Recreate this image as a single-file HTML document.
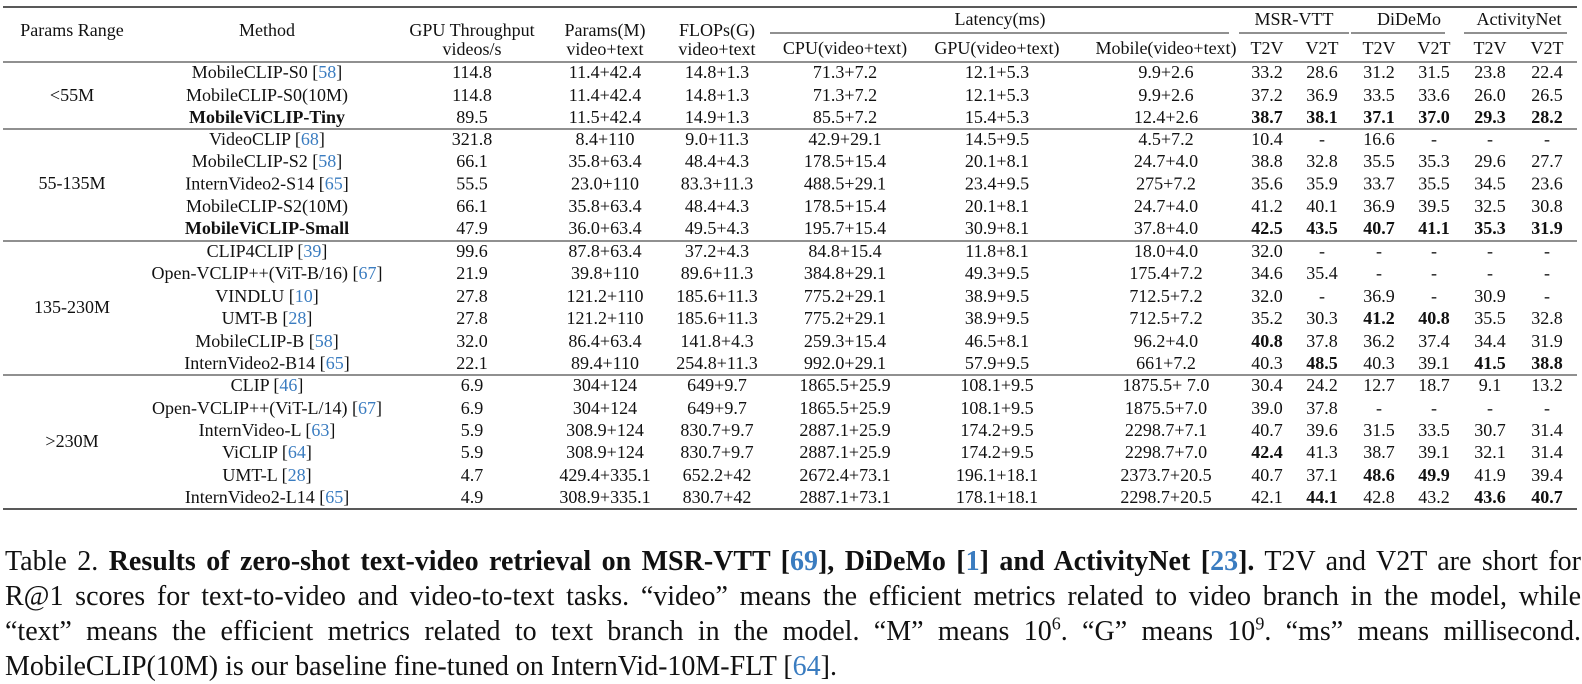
<!DOCTYPE html>
<html><head><meta charset="utf-8"><style>
html,body{margin:0;padding:0;background:#fff;width:1582px;height:677px;overflow:hidden}
svg{position:absolute;left:0;top:0}
svg text{font-family:"Liberation Serif",serif;font-size:18px;fill:#111;text-anchor:middle}
.b{font-weight:bold}
.r{fill:#3a7cc0}
.cap{position:absolute;left:5px;top:544px;width:1576px;font-family:"Liberation Serif",serif;font-size:28px;line-height:35px;color:#111}
.cap div{text-align:justify;text-align-last:justify;white-space:nowrap}
.cap div.l{text-align-last:left}
.cap .bl{color:#3a7cc0}
sup{font-size:18px;line-height:0}
</style></head><body>
<svg width="1582" height="540" viewBox="0 0 1582 540">
<g stroke="#222" fill="none">
<line x1="3" y1="7" x2="1577" y2="7" stroke-width="1.6"/>
<line x1="770" y1="33" x2="1229" y2="33" stroke-width="0.9"/>
<line x1="1239" y1="33" x2="1349" y2="33" stroke-width="0.9"/>
<line x1="1351" y1="33" x2="1445" y2="33" stroke-width="0.9"/>
<line x1="1464" y1="33" x2="1567" y2="33" stroke-width="0.9"/>
<line x1="3" y1="62" x2="1577" y2="62" stroke-width="1"/>
<line x1="3" y1="129" x2="1577" y2="129" stroke-width="1"/>
<line x1="3" y1="241" x2="1577" y2="241" stroke-width="1"/>
<line x1="3" y1="375" x2="1577" y2="375" stroke-width="1"/>
<line x1="3" y1="509" x2="1577" y2="509" stroke-width="1.6"/>
</g>
<text x="72" y="36">Params Range</text>
<text x="267" y="36">Method</text>
<text x="472" y="36">GPU Throughput</text><text x="472" y="55">videos/s</text>
<text x="605" y="36">Params(M)</text><text x="605" y="55">video+text</text>
<text x="717" y="36">FLOPs(G)</text><text x="717" y="55">video+text</text>
<text x="1000" y="25">Latency(ms)</text>
<text x="845" y="54">CPU(video+text)</text>
<text x="997" y="54">GPU(video+text)</text>
<text x="1166" y="54">Mobile(video+text)</text>
<text x="1294" y="25">MSR-VTT</text>
<text x="1409" y="25">DiDeMo</text>
<text x="1519" y="25">ActivityNet</text>
<text x="1267" y="54">T2V</text><text x="1322" y="54">V2T</text>
<text x="1379" y="54">T2V</text><text x="1434" y="54">V2T</text>
<text x="1490" y="54">T2V</text><text x="1547" y="54">V2T</text>

<text x="72" y="101">&lt;55M</text>
<text x="72" y="189">55-135M</text>
<text x="72" y="313">135-230M</text>
<text x="72" y="447">&gt;230M</text>

<g transform="translate(0,78)"><text x="267">MobileCLIP-S0 [<tspan class="r">58</tspan>]</text><text x="472">114.8</text><text x="605">11.4+42.4</text><text x="717">14.8+1.3</text><text x="845">71.3+7.2</text><text x="997">12.1+5.3</text><text x="1166">9.9+2.6</text><text x="1267">33.2</text><text x="1322">28.6</text><text x="1379">31.2</text><text x="1434">31.5</text><text x="1490">23.8</text><text x="1547">22.4</text></g>
<g transform="translate(0,101)"><text x="267">MobileCLIP-S0(10M)</text><text x="472">114.8</text><text x="605">11.4+42.4</text><text x="717">14.8+1.3</text><text x="845">71.3+7.2</text><text x="997">12.1+5.3</text><text x="1166">9.9+2.6</text><text x="1267">37.2</text><text x="1322">36.9</text><text x="1379">33.5</text><text x="1434">33.6</text><text x="1490">26.0</text><text x="1547">26.5</text></g>
<g transform="translate(0,123)"><text x="267" class="b">MobileViCLIP-Tiny</text><text x="472">89.5</text><text x="605">11.5+42.4</text><text x="717">14.9+1.3</text><text x="845">85.5+7.2</text><text x="997">15.4+5.3</text><text x="1166">12.4+2.6</text><text x="1267" class="b">38.7</text><text x="1322" class="b">38.1</text><text x="1379" class="b">37.1</text><text x="1434" class="b">37.0</text><text x="1490" class="b">29.3</text><text x="1547" class="b">28.2</text></g>

<g transform="translate(0,145)"><text x="267">VideoCLIP [<tspan class="r">68</tspan>]</text><text x="472">321.8</text><text x="605">8.4+110</text><text x="717">9.0+11.3</text><text x="845">42.9+29.1</text><text x="997">14.5+9.5</text><text x="1166">4.5+7.2</text><text x="1267">10.4</text><text x="1322">-</text><text x="1379">16.6</text><text x="1434">-</text><text x="1490">-</text><text x="1547">-</text></g>
<g transform="translate(0,167)"><text x="267">MobileCLIP-S2 [<tspan class="r">58</tspan>]</text><text x="472">66.1</text><text x="605">35.8+63.4</text><text x="717">48.4+4.3</text><text x="845">178.5+15.4</text><text x="997">20.1+8.1</text><text x="1166">24.7+4.0</text><text x="1267">38.8</text><text x="1322">32.8</text><text x="1379">35.5</text><text x="1434">35.3</text><text x="1490">29.6</text><text x="1547">27.7</text></g>
<g transform="translate(0,189.5)"><text x="267">InternVideo2-S14 [<tspan class="r">65</tspan>]</text><text x="472">55.5</text><text x="605">23.0+110</text><text x="717">83.3+11.3</text><text x="845">488.5+29.1</text><text x="997">23.4+9.5</text><text x="1166">275+7.2</text><text x="1267">35.6</text><text x="1322">35.9</text><text x="1379">33.7</text><text x="1434">35.5</text><text x="1490">34.5</text><text x="1547">23.6</text></g>
<g transform="translate(0,212)"><text x="267">MobileCLIP-S2(10M)</text><text x="472">66.1</text><text x="605">35.8+63.4</text><text x="717">48.4+4.3</text><text x="845">178.5+15.4</text><text x="997">20.1+8.1</text><text x="1166">24.7+4.0</text><text x="1267">41.2</text><text x="1322">40.1</text><text x="1379">36.9</text><text x="1434">39.5</text><text x="1490">32.5</text><text x="1547">30.8</text></g>
<g transform="translate(0,234)"><text x="267" class="b">MobileViCLIP-Small</text><text x="472">47.9</text><text x="605">36.0+63.4</text><text x="717">49.5+4.3</text><text x="845">195.7+15.4</text><text x="997">30.9+8.1</text><text x="1166">37.8+4.0</text><text x="1267" class="b">42.5</text><text x="1322" class="b">43.5</text><text x="1379" class="b">40.7</text><text x="1434" class="b">41.1</text><text x="1490" class="b">35.3</text><text x="1547" class="b">31.9</text></g>

<g transform="translate(0,257)"><text x="267">CLIP4CLIP [<tspan class="r">39</tspan>]</text><text x="472">99.6</text><text x="605">87.8+63.4</text><text x="717">37.2+4.3</text><text x="845">84.8+15.4</text><text x="997">11.8+8.1</text><text x="1166">18.0+4.0</text><text x="1267">32.0</text><text x="1322">-</text><text x="1379">-</text><text x="1434">-</text><text x="1490">-</text><text x="1547">-</text></g>
<g transform="translate(0,279)"><text x="267">Open-VCLIP++(ViT-B/16) [<tspan class="r">67</tspan>]</text><text x="472">21.9</text><text x="605">39.8+110</text><text x="717">89.6+11.3</text><text x="845">384.8+29.1</text><text x="997">49.3+9.5</text><text x="1166">175.4+7.2</text><text x="1267">34.6</text><text x="1322">35.4</text><text x="1379">-</text><text x="1434">-</text><text x="1490">-</text><text x="1547">-</text></g>
<g transform="translate(0,302)"><text x="267">VINDLU [<tspan class="r">10</tspan>]</text><text x="472">27.8</text><text x="605">121.2+110</text><text x="717">185.6+11.3</text><text x="845">775.2+29.1</text><text x="997">38.9+9.5</text><text x="1166">712.5+7.2</text><text x="1267">32.0</text><text x="1322">-</text><text x="1379">36.9</text><text x="1434">-</text><text x="1490">30.9</text><text x="1547">-</text></g>
<g transform="translate(0,324)"><text x="267">UMT-B [<tspan class="r">28</tspan>]</text><text x="472">27.8</text><text x="605">121.2+110</text><text x="717">185.6+11.3</text><text x="845">775.2+29.1</text><text x="997">38.9+9.5</text><text x="1166">712.5+7.2</text><text x="1267">35.2</text><text x="1322">30.3</text><text x="1379" class="b">41.2</text><text x="1434" class="b">40.8</text><text x="1490">35.5</text><text x="1547">32.8</text></g>
<g transform="translate(0,347)"><text x="267">MobileCLIP-B [<tspan class="r">58</tspan>]</text><text x="472">32.0</text><text x="605">86.4+63.4</text><text x="717">141.8+4.3</text><text x="845">259.3+15.4</text><text x="997">46.5+8.1</text><text x="1166">96.2+4.0</text><text x="1267" class="b">40.8</text><text x="1322">37.8</text><text x="1379">36.2</text><text x="1434">37.4</text><text x="1490">34.4</text><text x="1547">31.9</text></g>
<g transform="translate(0,369)"><text x="267">InternVideo2-B14 [<tspan class="r">65</tspan>]</text><text x="472">22.1</text><text x="605">89.4+110</text><text x="717">254.8+11.3</text><text x="845">992.0+29.1</text><text x="997">57.9+9.5</text><text x="1166">661+7.2</text><text x="1267">40.3</text><text x="1322" class="b">48.5</text><text x="1379">40.3</text><text x="1434">39.1</text><text x="1490" class="b">41.5</text><text x="1547" class="b">38.8</text></g>

<g transform="translate(0,391)"><text x="267">CLIP [<tspan class="r">46</tspan>]</text><text x="472">6.9</text><text x="605">304+124</text><text x="717">649+9.7</text><text x="845">1865.5+25.9</text><text x="997">108.1+9.5</text><text x="1166">1875.5+ 7.0</text><text x="1267">30.4</text><text x="1322">24.2</text><text x="1379">12.7</text><text x="1434">18.7</text><text x="1490">9.1</text><text x="1547">13.2</text></g>
<g transform="translate(0,414)"><text x="267">Open-VCLIP++(ViT-L/14) [<tspan class="r">67</tspan>]</text><text x="472">6.9</text><text x="605">304+124</text><text x="717">649+9.7</text><text x="845">1865.5+25.9</text><text x="997">108.1+9.5</text><text x="1166">1875.5+7.0</text><text x="1267">39.0</text><text x="1322">37.8</text><text x="1379">-</text><text x="1434">-</text><text x="1490">-</text><text x="1547">-</text></g>
<g transform="translate(0,436)"><text x="267">InternVideo-L [<tspan class="r">63</tspan>]</text><text x="472">5.9</text><text x="605">308.9+124</text><text x="717">830.7+9.7</text><text x="845">2887.1+25.9</text><text x="997">174.2+9.5</text><text x="1166">2298.7+7.1</text><text x="1267">40.7</text><text x="1322">39.6</text><text x="1379">31.5</text><text x="1434">33.5</text><text x="1490">30.7</text><text x="1547">31.4</text></g>
<g transform="translate(0,458)"><text x="267">ViCLIP [<tspan class="r">64</tspan>]</text><text x="472">5.9</text><text x="605">308.9+124</text><text x="717">830.7+9.7</text><text x="845">2887.1+25.9</text><text x="997">174.2+9.5</text><text x="1166">2298.7+7.0</text><text x="1267" class="b">42.4</text><text x="1322">41.3</text><text x="1379">38.7</text><text x="1434">39.1</text><text x="1490">32.1</text><text x="1547">31.4</text></g>
<g transform="translate(0,481)"><text x="267">UMT-L [<tspan class="r">28</tspan>]</text><text x="472">4.7</text><text x="605">429.4+335.1</text><text x="717">652.2+42</text><text x="845">2672.4+73.1</text><text x="997">196.1+18.1</text><text x="1166">2373.7+20.5</text><text x="1267">40.7</text><text x="1322">37.1</text><text x="1379" class="b">48.6</text><text x="1434" class="b">49.9</text><text x="1490">41.9</text><text x="1547">39.4</text></g>
<g transform="translate(0,503)"><text x="267">InternVideo2-L14 [<tspan class="r">65</tspan>]</text><text x="472">4.9</text><text x="605">308.9+335.1</text><text x="717">830.7+42</text><text x="845">2887.1+73.1</text><text x="997">178.1+18.1</text><text x="1166">2298.7+20.5</text><text x="1267">42.1</text><text x="1322" class="b">44.1</text><text x="1379">42.8</text><text x="1434">43.2</text><text x="1490" class="b">43.6</text><text x="1547" class="b">40.7</text></g>
</svg>
<div class="cap">
<div>Table 2. <b>Results of zero-shot text-video retrieval on MSR-VTT [<span class="bl">69</span>], DiDeMo [<span class="bl">1</span>] and ActivityNet [<span class="bl">23</span>].</b> T2V and V2T are short for</div>
<div>R@1 scores for text-to-video and video-to-text tasks. “video” means the efficient metrics related to video branch in the model, while</div>
<div>“text” means the efficient metrics related to text branch in the model. “M” means 10<sup>6</sup>. “G” means 10<sup>9</sup>. “ms” means millisecond.</div>
<div class="l">MobileCLIP(10M) is our baseline fine-tuned on InternVid-10M-FLT [<span class="bl">64</span>].</div>
</div>
</body></html>
